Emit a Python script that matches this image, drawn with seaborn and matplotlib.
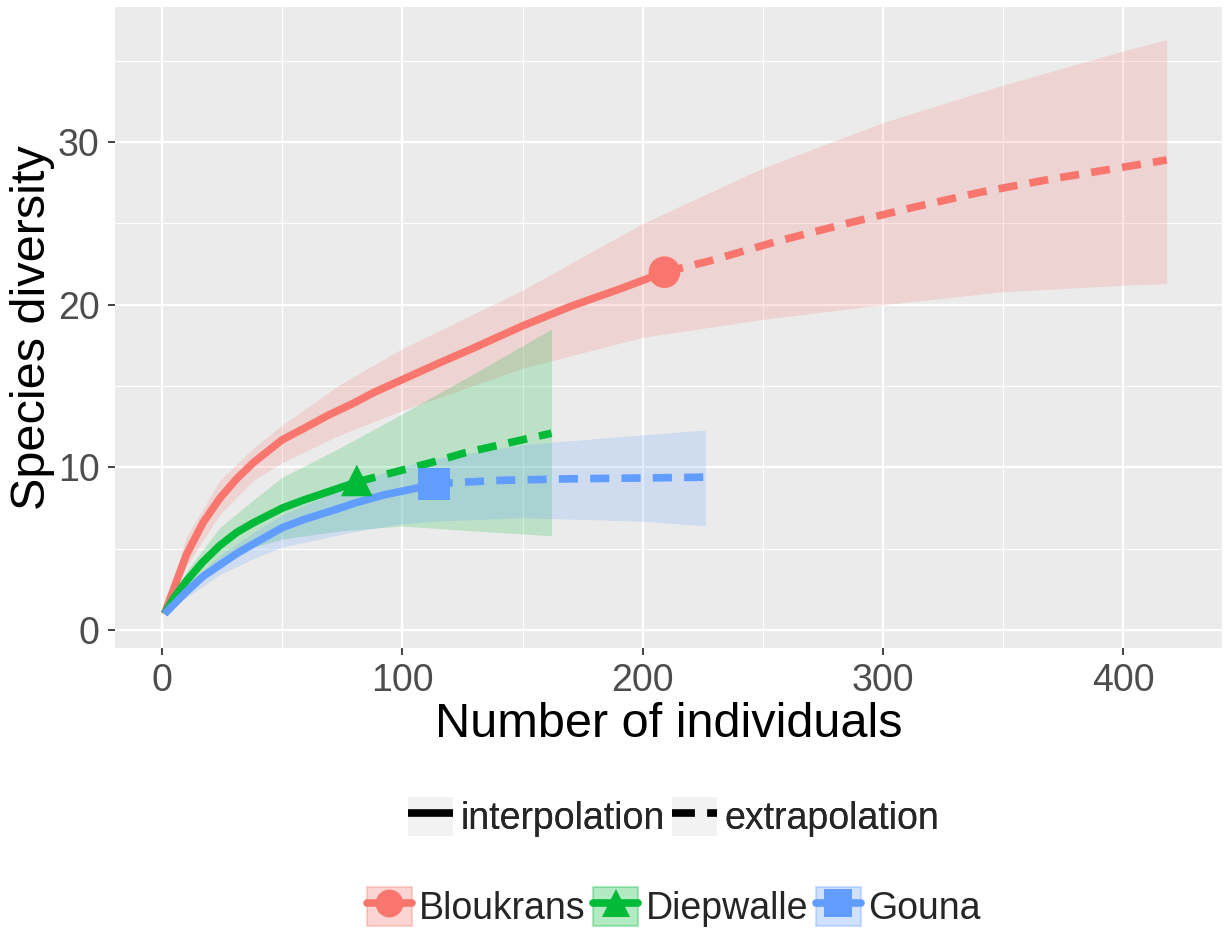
import numpy as np
import pandas as pd
import seaborn as sns
import matplotlib.pyplot as plt
from matplotlib.lines import Line2D
from matplotlib.patches import Patch
from matplotlib.legend_handler import HandlerTuple
from matplotlib.ticker import MultipleLocator

# данные

sites = ["Bloukrans", "Diepwalle", "Gouna"]
colors = ["#F8766D", "#00BA38", "#619CFF"]
markers = ["o", "^", "s"]

# Bloukrans
blo_interp_n = [1, 5, 10, 17, 24, 31, 38, 50, 59, 69, 79, 88, 100, 115, 129, 150, 170, 191, 209]
blo_interp_s = [1.0, 2.6, 4.6, 6.6, 8.1, 9.3, 10.3, 11.7, 12.4, 13.2, 13.9, 14.6, 15.4,
                16.4, 17.3, 18.7, 19.9, 21.0, 22.0]
blo_extrap_n = [209, 228, 256, 285, 313, 340, 369, 418]
blo_extrap_s = [22.0, 22.7, 23.9, 25.0, 26.0, 26.9, 27.7, 28.9]
blo_band_n = [1, 10, 24, 38, 50, 74, 100, 150, 200, 250, 300, 350, 400, 418]
blo_band_hi = [1.0, 5.7, 9.2, 11.2, 12.6, 15.1, 17.3, 20.9, 25.0, 28.4, 31.2, 33.5, 35.6, 36.3]
blo_band_lo = [1.0, 3.9, 7.1, 9.2, 10.3, 12.0, 13.5, 16.1, 18.0, 19.1, 20.0, 20.8, 21.2, 21.3]

# Diepwalle
die_interp_n = [1, 5, 10, 17, 24, 31, 38, 50, 59, 71, 81]
die_interp_s = [1.0, 2.0, 3.0, 4.2, 5.2, 6.0, 6.6, 7.5, 8.0, 8.6, 9.1]
die_extrap_n = [81, 99, 112, 126, 141, 162]
die_extrap_s = [9.1, 9.8, 10.3, 10.9, 11.4, 12.1]
die_band_n = [1, 10, 24, 38, 50, 74, 100, 129, 162]
die_band_hi = [1.0, 3.6, 6.3, 8.0, 9.4, 11.2, 13.3, 15.7, 18.5]
die_band_lo = [1.0, 2.6, 4.2, 5.1, 5.6, 6.1, 6.4, 6.1, 5.8]

# Gouna
gou_interp_n = [1, 5, 10, 17, 24, 31, 38, 50, 59, 72, 80, 92, 105, 113]
gou_interp_s = [1.0, 1.6, 2.35, 3.3, 4.0, 4.7, 5.3, 6.3, 6.8, 7.4, 7.8, 8.3, 8.7, 9.0]
gou_extrap_n = [113, 140, 170, 200, 226]
gou_extrap_s = [9.0, 9.2, 9.3, 9.35, 9.4]
gou_band_n = [1, 10, 24, 38, 50, 78, 98, 113, 150, 200, 226]
gou_band_hi = [1.0, 2.7, 4.6, 6.0, 7.1, 8.9, 10.0, 10.5, 11.4, 12.0, 12.3]
gou_band_lo = [1.0, 2.0, 3.4, 4.4, 5.1, 6.0, 6.5, 6.7, 6.9, 6.7, 6.4]

observed_n = [209, 81, 113]
observed_s = [22.0, 9.2, 9.0]

# таблица для seaborn

rows = []
curves = [
    ("Bloukrans", blo_interp_n, blo_interp_s, blo_extrap_n, blo_extrap_s),
    ("Diepwalle", die_interp_n, die_interp_s, die_extrap_n, die_extrap_s),
    ("Gouna", gou_interp_n, gou_interp_s, gou_extrap_n, gou_extrap_s),
]
for site, i_n, i_s, e_n, e_s in curves:
    for n, s in zip(i_n, i_s):
        rows.append((site, "interpolation", n, s))
    for n, s in zip(e_n, e_s):
        rows.append((site, "extrapolation", n, s))

df = pd.DataFrame(rows, columns=["site", "method", "m", "qD"])

points = pd.DataFrame({
    "site": sites,
    "m": observed_n,
    "qD": observed_s,
})

bands = [
    (blo_band_n, blo_band_lo, blo_band_hi),
    (die_band_n, die_band_lo, die_band_hi),
    (gou_band_n, gou_band_lo, gou_band_hi),
]

# оформление в стиле ggplot

sns.set_theme(style="darkgrid")
plt.rcParams["font.family"] = ["Liberation Sans", "DejaVu Sans"]
plt.rcParams["axes.facecolor"] = "#EBEBEB"

palette = dict(zip(sites, colors))

fig = plt.figure(figsize=(12.25, 9.41), dpi=100)
ax = fig.add_axes([115 / 1225, 1 - 648 / 941, (1222 - 115) / 1225, (648 - 7) / 941])

for (n, lo, hi), color in zip(bands, colors):
    ax.fill_between(n, lo, hi, color=color, alpha=0.2, linewidth=0)

sns.lineplot(
    data=df,
    x="m",
    y="qD",
    hue="site",
    style="method",
    units="method",
    estimator=None,
    sort=False,
    palette=palette,
    dashes={"interpolation": "", "extrapolation": (2.5, 1.6)},
    linewidth=5.5,
    legend=False,
    ax=ax,
)

for line in ax.lines:
    line.set_dash_capstyle("butt")
    line.set_solid_capstyle("butt")
    line.set_solid_joinstyle("round")

sns.scatterplot(
    data=points,
    x="m",
    y="qD",
    hue="site",
    style="site",
    palette=palette,
    markers=dict(zip(sites, markers)),
    s=520,
    linewidth=0,
    legend=False,
    ax=ax,
    zorder=5,
)

ax.set_xlim(-19.6, 441)
ax.set_ylim(-1.1, 38.3)

ax.xaxis.set_major_locator(MultipleLocator(100))
ax.xaxis.set_minor_locator(MultipleLocator(50))
ax.yaxis.set_major_locator(MultipleLocator(10))
ax.yaxis.set_minor_locator(MultipleLocator(5))

ax.grid(which="major", color="white", linewidth=1.6)
ax.grid(which="minor", color="white", linewidth=0.8)
ax.set_axisbelow(True)

for spine in ax.spines.values():
    spine.set_visible(False)

ax.tick_params(
    which="major",
    length=5,
    width=1.3,
    color="#333333",
    labelsize=27,
    labelcolor="#4D4D4D",
    pad=6,
    bottom=True,
    left=True,
)
ax.tick_params(which="minor", length=0)

ax.set_xlabel("Number of individuals", fontsize=35, color="black", labelpad=2)
ax.set_ylabel("Species diversity", fontsize=35, color="black", labelpad=2)

# легенды снизу

key_bg = "#F2F2F2"
tuple_handler = {tuple: HandlerTuple(ndivide=1)}

type_handles = [
    (Patch(facecolor=key_bg, edgecolor="none"),
     Line2D([], [], color="black", linewidth=5.5, solid_capstyle="butt")),
    (Patch(facecolor=key_bg, edgecolor="none"),
     Line2D([], [], color="black", linewidth=5.5, linestyle=(0, (3, 1.6)),
            dash_capstyle="butt")),
]

site_handles = []
for color, marker in zip(colors, markers):
    site_handles.append((
        Patch(facecolor=color, alpha=0.3, edgecolor=color, linewidth=1.5),
        Line2D([], [], color=color, linewidth=5.5, marker=marker,
               markersize=20, markeredgewidth=0),
    ))

leg1 = fig.legend(
    type_handles,
    ["interpolation", "extrapolation"],
    handler_map=tuple_handler,
    loc="center",
    bbox_to_anchor=(0.55, 1 - 817 / 941),
    ncol=2,
    frameon=False,
    fontsize=27,
    handlelength=1.2,
    handleheight=1.2,
    handletextpad=0.2,
    columnspacing=0.2,
)

leg2 = fig.legend(
    site_handles,
    sites,
    handler_map=tuple_handler,
    loc="center",
    bbox_to_anchor=(0.55, 1 - 907 / 941),
    ncol=3,
    frameon=False,
    fontsize=27,
    handlelength=1.2,
    handleheight=1.2,
    handletextpad=0.2,
    columnspacing=0.2,
)
fig.add_artist(leg1)

plt.savefig("out.png", dpi=100)
